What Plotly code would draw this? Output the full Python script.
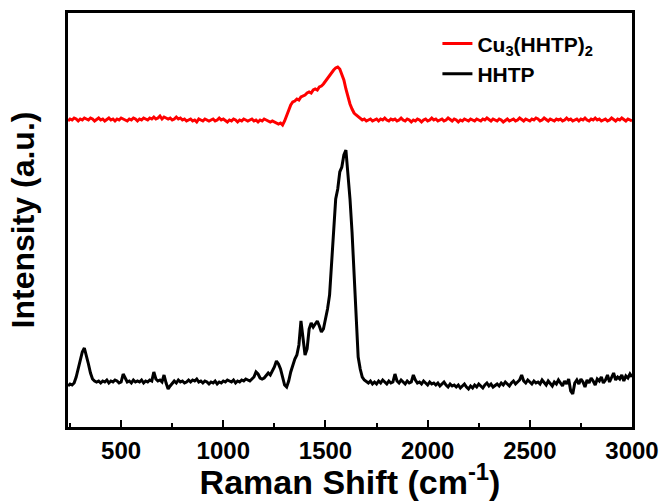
import numpy as np
import plotly.graph_objects as go

# Raman shift grid (cm^-1), 10 cm^-1 step from 240 to 3000
raman_shift = np.arange(240, 3001, 10)

# HHTP spectrum (arbitrary units)
hhtp = [
    41, 43, 42, 44, 50, 58, 67, 75, 79, 72,
    63, 54, 48, 46, 45, 46, 44, 46, 45, 47,
    44, 46, 45, 47, 46, 44, 45, 53, 48, 45,
    46, 44, 47, 45, 46, 45, 47, 44, 46, 45,
    47, 46, 55, 48, 46, 47, 45, 52, 44, 38,
    41, 44, 46, 44, 47, 45, 46, 44, 45, 47,
    45, 47, 46, 48, 45, 46, 44, 46, 45, 43,
    45, 44, 46, 43, 45, 44, 46, 45, 47, 46,
    45, 47, 44, 46, 45, 47, 46, 48, 47, 46,
    48, 50, 55, 53, 49, 48, 49, 51, 54, 52,
    56, 60, 66, 63, 58, 49, 42, 40, 46, 55,
    62, 68, 72, 82, 106, 90, 72, 78, 98, 104,
    100, 103, 106, 101, 95, 98, 108, 118, 132, 165,
    205, 228, 238, 255, 260, 272, 277, 255, 228, 195,
    148, 110, 70, 58, 50, 47, 45, 44, 46, 43,
    45, 43, 46, 44, 47, 45, 43, 46, 44, 45,
    53, 46, 44, 47, 45, 43, 46, 44, 45, 52,
    47, 44, 45, 43, 46, 44, 42, 45, 43, 44,
    42, 44, 41, 43, 45, 42, 40, 43, 41, 42,
    40, 42, 39, 41, 43, 40, 38, 41, 39, 42,
    40, 43, 41, 39, 42, 44, 41, 43, 40, 42,
    43, 41, 44, 42, 45, 43, 41, 44, 46, 43,
    45, 47, 52, 46, 44, 47, 45, 43, 46, 44,
    45, 43, 47, 44, 42, 46, 44, 41, 45, 43,
    47, 44, 41, 46, 43, 48, 36, 33, 44, 47,
    43, 48, 45, 40, 47, 44, 49, 46, 42, 48,
    46, 50, 44, 47, 52, 45, 49, 54, 47, 50,
    48, 52, 46, 51, 49, 53, 50,
]

# Cu3(HHTP)2 spectrum (arbitrary units, offset above HHTP)
cu_hhtp = [
    306, 308, 307, 309, 308, 306, 308, 307, 309, 308,
    307, 309, 308, 306, 308, 309, 307, 308, 306, 308,
    309, 307, 308, 306, 308, 307, 309, 308, 307, 306,
    308, 307, 309, 308, 306, 308, 307, 309, 308, 307,
    309, 308, 310, 308, 309, 311, 308, 310, 309, 308,
    309, 307, 308, 310, 308, 309, 307, 308, 306, 307,
    308, 306, 307, 305, 308, 307, 306, 308, 307, 306,
    307, 308, 306, 307, 309, 307, 308, 306, 305, 307,
    306, 308, 307, 305, 307, 306, 308, 307, 306, 307,
    308, 306, 307, 305, 307, 306, 308, 307, 306, 305,
    306, 305, 304, 303, 304, 302, 306, 311, 317, 322,
    325, 326, 328, 327, 330, 331, 332, 334, 335, 334,
    337, 338, 337, 340, 341, 343, 346, 349, 352, 355,
    357, 359, 360, 358, 353, 347, 338, 329, 323, 318,
    314, 312, 310, 308, 307, 308, 306, 307, 308, 306,
    307, 308, 306, 308, 307, 309, 307, 306, 308, 307,
    308, 306, 307, 309, 307, 306, 308, 307, 305, 307,
    306, 308, 307, 305, 307, 308, 306, 307, 309, 307,
    308, 306, 307, 308, 306, 307, 309, 307, 306, 308,
    307, 305, 307, 306, 308, 307, 306, 308, 307, 306,
    308, 307, 306, 308, 307, 309, 307, 306, 308, 307,
    306, 308, 307, 305, 307, 308, 306, 307, 308, 306,
    307, 309, 307, 306, 308, 307, 306, 308, 307, 309,
    308, 306, 307, 309, 307, 306, 308, 307, 306, 308,
    307, 308, 306, 307, 309, 307, 308, 306, 307, 308,
    306, 308, 307, 309, 307, 306, 308, 307, 309, 307,
    308, 306, 307, 308, 306, 307, 309, 307, 306, 308,
    307, 309, 307, 306, 308, 307, 306,
]

x_ticks = [500, 1000, 1500, 2000, 2500, 3000]

FONT = "Liberation Sans, Arial, sans-serif"

fig = go.Figure()
fig.add_trace(go.Scatter(
    x=raman_shift, y=cu_hhtp, mode="lines",
    name="<b>Cu<sub>3</sub>(HHTP)<sub>2</sub></b>",
    line=dict(color="#ff0000", width=3),
))
fig.add_trace(go.Scatter(
    x=raman_shift, y=hhtp, mode="lines",
    name="<b>HHTP</b>",
    line=dict(color="#000000", width=3),
))

fig.update_layout(
    width=666, height=501,
    margin=dict(l=68, r=34, t=13, b=74, autoexpand=False),
    paper_bgcolor="white", plot_bgcolor="white",
    font=dict(family=FONT, color="black"),
    showlegend=True,
    legend=dict(
        x=0.655, y=0.975, xanchor="left", yanchor="top",
        bgcolor="rgba(0,0,0,0)", borderwidth=0,
        font=dict(family=FONT, size=21, color="black"),
        tracegroupgap=0,
    ),
    xaxis=dict(
        range=[240, 3000],
        tickvals=x_ticks,
        ticktext=[f"<b>{v}</b>" for v in x_ticks],
        ticks="inside", ticklen=7, tickwidth=2, tickcolor="black",
        minor=dict(dtick=250, tick0=250, ticks="inside", ticklen=4,
                   tickwidth=2, tickcolor="black"),
        tickfont=dict(family=FONT, size=24, color="black"),
        ticklabelstandoff=0,
        automargin=False,
        showgrid=False, zeroline=False,
        showline=True, linecolor="black", linewidth=2.5, mirror=True,
        title=dict(text="<b>Raman Shift (cm<sup>-1</sup>)</b>",
                   font=dict(family=FONT, size=34, color="black"),
                   standoff=6),
    ),
    yaxis=dict(
        range=[0, 414],
        showticklabels=False, ticks="",
        automargin=False,
        showgrid=False, zeroline=False,
        showline=True, linecolor="black", linewidth=2.5, mirror=True,
        title=dict(text="<b>Intensity (a.u.)</b>",
                   font=dict(family=FONT, size=32, color="black"),
                   standoff=22),
    ),
)

fig.write_html("out.html")
